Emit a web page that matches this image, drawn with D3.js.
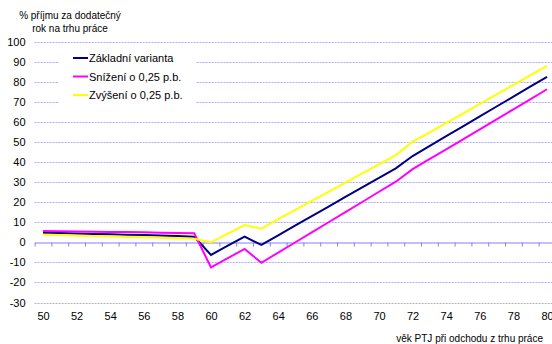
<!DOCTYPE html>
<html>
<head>
<meta charset="utf-8">
<script src="https://cdn.jsdelivr.net/npm/d3@7"></script>
<style>
  body { margin: 0; background: #fff; }
  svg { display: block; font-family: "Liberation Sans", Arial, sans-serif; }
</style>
</head>
<body>
<svg id="chart" width="552" height="344"></svg>
<script>
// ages (categories)
const years = d3.range(50, 81);

// series values
const zakladni = [4.8, 4.6, 4.4, 4.2, 4.0, 3.8, 3.6, 3.4, 3.1, 2.8,
  -6.3, -1.7, 2.8, -1.3, 3.5, 8.3, 13.0, 17.8, 22.6, 27.4, 32.1,
  36.9, 43.0, 48.0, 52.9, 57.8, 62.8, 67.7, 72.6, 77.6, 82.5];
const snizeni = [5.6, 5.5, 5.4, 5.3, 5.2, 5.1, 5.0, 4.8, 4.7, 4.5,
  -12.5, -7.9, -3.3, -10.2, -5.1, -0.1, 5.0, 10.0, 15.1, 20.1, 25.2,
  30.2, 36.5, 41.5, 46.3, 51.3, 56.3, 61.3, 66.3, 71.3, 76.3];
const zvyseni = [3.8, 3.6, 3.3, 3.1, 2.9, 2.7, 2.5, 2.3, 2.0, 1.8,
  0.0, 4.3, 8.6, 6.8, 11.6, 16.1, 20.7, 25.2, 29.8, 34.4, 38.9,
  43.5, 50.2, 54.7, 59.5, 64.2, 69.0, 73.7, 78.5, 83.2, 88.0];

const seriesNames = ['Základní varianta', 'Snížení o 0,25 p.b.', 'Zvýšení o 0,25 p.b.'];
const seriesColors = ['#000080', '#ff00ff', '#ffff00'];
const yTicks = d3.range(-30, 101, 10);
const xLabels = d3.range(50, 81, 2);

const svg = d3.select('#chart');

// scales: categories sit in the middle of equal slots
const x = d3.scaleLinear().domain([49.5, 80.5]).range([34.6, 555.4]);
const y = d3.scaleLinear().domain([-30, 100]).range([302.5, 41.7]);

// gridlines
svg.append('g')
  .selectAll('line')
  .data(yTicks.filter(d => d !== 0))
  .join('line')
  .attr('x1', x.range()[0])
  .attr('x2', 552)
  .attr('y1', d => Math.round(y(d)) + 0.5)
  .attr('y2', d => Math.round(y(d)) + 0.5)
  .attr('stroke', '#adadf5')
  .attr('stroke-dasharray', '2,1');

// y axis labels only
const yAxisG = svg.append('g')
  .attr('transform', `translate(${x.range()[0]},0)`)
  .call(d3.axisLeft(y).tickValues(yTicks).tickSize(0).tickPadding(9).tickFormat(d => String(d)));
yAxisG.select('.domain').remove();
yAxisG.selectAll('text').attr('font-size', 11).attr('font-family', null).attr('fill', '#000');

// x axis line at zero with ticks at slot edges
const zeroY = Math.round(y(0)) + 0.5;
const xAxisG = svg.append('g')
  .attr('transform', `translate(0,${zeroY})`)
  .call(d3.axisBottom(x).tickValues(d3.range(49.5, 81, 1)).tickSize(4).tickSizeOuter(0).tickFormat(''));
xAxisG.select('.domain').attr('stroke', '#8080ff');
xAxisG.selectAll('line').attr('stroke', '#8080ff');

// x labels at the bottom
const xLabG = svg.append('g')
  .attr('transform', 'translate(0,312)')
  .call(d3.axisBottom(x).tickValues(xLabels).tickSize(0).tickPadding(0).tickFormat(d => String(d)));
xLabG.select('.domain').remove();
xLabG.selectAll('text').attr('font-size', 11).attr('font-family', null).attr('fill', '#000');

// lines
const line = d3.line()
  .x((d, i) => x(years[i]))
  .y(d => y(d));

[zakladni, snizeni, zvyseni].forEach((vals, k) => {
  svg.append('path')
    .datum(vals)
    .attr('fill', 'none')
    .attr('stroke', seriesColors[k])
    .attr('stroke-width', 2)
    .attr('stroke-linejoin', 'miter')
    .attr('d', line);
});

// legend
const legend = svg.append('g');
legend.append('rect')
  .attr('x', 59).attr('y', 45).attr('width', 137).attr('height', 64)
  .attr('fill', '#fff');
seriesNames.forEach((name, k) => {
  const ly = 58 + k * 18.5;
  legend.append('line')
    .attr('x1', 73).attr('x2', 88)
    .attr('y1', ly).attr('y2', ly)
    .attr('stroke', seriesColors[k])
    .attr('stroke-width', 2);
  legend.append('text')
    .attr('x', 89).attr('y', ly + 4)
    .attr('font-size', 11)
    .text(name);
});

// axis titles
svg.append('text')
  .attr('x', 70).attr('y', 19)
  .attr('text-anchor', 'middle')
  .attr('font-size', 10)
  .text('% příjmu za dodatečný');
svg.append('text')
  .attr('x', 70).attr('y', 32)
  .attr('text-anchor', 'middle')
  .attr('font-size', 10)
  .text('rok na trhu práce');
svg.append('text')
  .attr('x', 543).attr('y', 342)
  .attr('text-anchor', 'end')
  .attr('font-size', 10)
  .text('věk PTJ při odchodu z trhu práce');
</script>
</body>
</html>
